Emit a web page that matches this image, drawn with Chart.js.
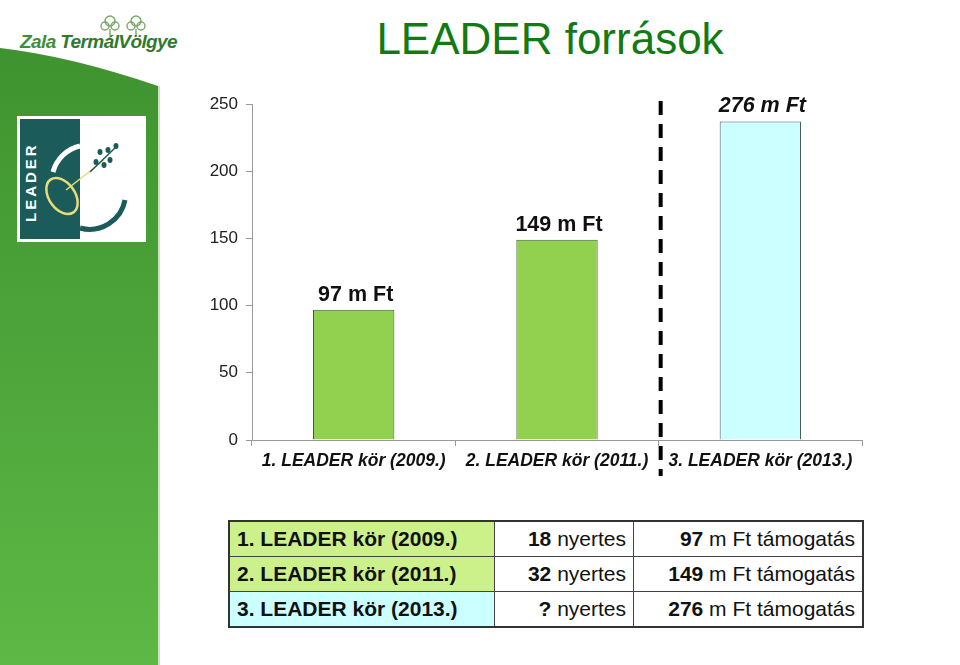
<!DOCTYPE html>
<html>
<head>
<meta charset="utf-8">
<script src="https://cdn.jsdelivr.net/npm/chart.js@4"></script>
<style>
  html, body { margin: 0; padding: 0; background: #fff; }
  body { width: 960px; height: 665px; position: relative; overflow: hidden; font-family: "Liberation Sans", Arial, sans-serif; }
  #side { position: absolute; left: 0; top: 0; }
  #brand { position: absolute; left: 20px; top: 31px; font-size: 19px; font-weight: bold; color: #3d8f3a; letter-spacing: -0.6px; font-style: italic; }
  #brand span { color: #2f7a2f; }
  #title { position: absolute; left: 170px; width: 760px; top: 14px; text-align: center; font-size: 44px; color: #127a12; }
  #wrap { position: absolute; left: 160px; top: 80px; width: 720px; height: 420px; }
  table { position: absolute; left: 228px; top: 520px; width: 636px; border-collapse: collapse; border: 2px solid #333; font-size: 21px; color: #111; }
  td { border: 1px solid #444; height: 34px; padding: 0 7px; white-space: nowrap; }
  td.k { font-weight: bold; width: 250px; }
  td.n { text-align: right; width: 124px; }
  td.t { text-align: right; }
</style>
</head>
<body>
<svg id="side" width="170" height="665">
  <defs>
    <linearGradient id="g" x1="0" y1="0" x2="0" y2="1">
      <stop offset="0" stop-color="#3f9330"/>
      <stop offset="1" stop-color="#5db845"/>
    </linearGradient>
  </defs>
  <path d="M0,48 Q70,56 158,86 L158,665 L0,665 Z" fill="url(#g)"/>
  <line x1="159" y1="86" x2="159" y2="665" stroke="#b8dca8" stroke-width="1.5"/>
  <!-- trees of the brand logo -->
  <g fill="none" stroke="#7aa86a" stroke-width="1.4">
    <circle cx="110" cy="21" r="5"/><circle cx="105" cy="26" r="4"/><circle cx="115" cy="26" r="4"/>
    <line x1="110" y1="29" x2="110" y2="36"/>
    <circle cx="136" cy="21" r="5"/><circle cx="131" cy="26" r="4"/><circle cx="141" cy="26" r="4"/>
    <line x1="136" y1="29" x2="136" y2="36"/>
  </g>
  <!-- LEADER logo -->
  <rect x="17" y="116" width="129" height="126" fill="#fff"/>
  <rect x="20" y="119" width="60" height="120" fill="#1b5c5a"/>
  <rect x="80" y="119" width="63" height="120" fill="#fff"/>
  <text transform="translate(36,222) rotate(-90)" fill="#fff" font-size="15" font-weight="bold" letter-spacing="3" font-family="Liberation Sans, Arial">LEADER</text>
  <path d="M80,146 A36,36 0 0 0 53,172" fill="none" stroke="#fff" stroke-width="5"/>
  <path d="M125,200 A36,36 0 0 1 80,228" fill="none" stroke="#1b5c5a" stroke-width="5"/>
  <ellipse cx="62" cy="196" rx="13" ry="20" transform="rotate(-35 62 196)" fill="none" stroke="#e8dc7a" stroke-width="2.5"/>
  <line x1="66" y1="190" x2="104" y2="160" stroke="#e8dc7a" stroke-width="1.5"/>
  <line x1="90" y1="172" x2="116" y2="147" stroke="#1b5c5a" stroke-width="1.5"/>
  <g fill="#1b5c5a">
    <ellipse cx="100" cy="152" rx="2.5" ry="3"/><ellipse cx="108" cy="150" rx="2.5" ry="3"/>
    <ellipse cx="116" cy="146" rx="2.5" ry="3"/><ellipse cx="104" cy="165" rx="2.5" ry="3"/>
    <ellipse cx="110" cy="160" rx="2.5" ry="3"/><ellipse cx="96" cy="162" rx="2.5" ry="3"/>
  </g>
</svg>
<div id="brand">Zala <span>TermálVölgye</span></div>
<div id="title">LEADER források</div>
<div id="wrap"><canvas id="c" width="720" height="420"></canvas></div>
<table id="tab"></table>
<script>
const rounds = ['1. LEADER kör (2009.)', '2. LEADER kör (2011.)', '3. LEADER kör (2013.)'];
const barValues = [97, 149, 237];
const barLabels = ['97 m Ft', '149 m Ft', '276 m Ft'];
const winners = ['18', '32', '?'];
const support = ['97', '149', '276'];
const yTicks = [0, 50, 100, 150, 200, 250];

const font = '"Liberation Sans", Arial, sans-serif';
const fills = ['#92d050', '#92d050', '#ccffff'];
const edges = ['#3f5f25', '#3f5f25', '#505a5a'];
const rowColors = ['#ccf08a', '#ccf08a', '#ccffff'];

// table below the chart
const tab = document.getElementById('tab');
rounds.forEach((r, i) => {
    const tr = document.createElement('tr');
    tr.innerHTML = `<td class="k" style="background:${rowColors[i]}">${r}</td>` +
        `<td class="n"><b>${winners[i]}</b> nyertes</td>` +
        `<td class="t"><b>${support[i]}</b> m Ft támogatás</td>`;
    tab.appendChild(tr);
});

// labels over the bars + dashed separator
const extras = {
    id: 'extras',
    afterDatasetsDraw(chart) {
        const ctx = chart.ctx;
        const meta = chart.getDatasetMeta(0);
        ctx.save();
        ctx.fillStyle = '#111';
        ctx.textAlign = 'center';
        ctx.textBaseline = 'alphabetic';
        meta.data.forEach((bar, i) => {
            ctx.font = (i === 2 ? 'italic ' : '') + 'bold 21.5px ' + font;
            ctx.fillText(barLabels[i], bar.x + 2, bar.y - 9);
        });
        const x = chart.scales.x.getPixelForValue(1.5) + 2;
        ctx.strokeStyle = '#000';
        ctx.lineWidth = 4;
        ctx.setLineDash([14, 9]);
        ctx.beginPath();
        ctx.moveTo(x, chart.chartArea.top - 3);
        ctx.lineTo(x, chart.chartArea.bottom + 36);
        ctx.stroke();
        ctx.restore();
    }
};

new Chart(document.getElementById('c'), {
    type: 'bar',
    data: {
        labels: rounds,
        datasets: [{
            data: barValues,
            backgroundColor: fills,
            borderColor: edges,
            borderWidth: 1,
            categoryPercentage: 1,
            barPercentage: 0.4
        }]
    },
    options: {
        responsive: false,
        animation: false,
        layout: { padding: { top: 24, right: 18, left: 0, bottom: 0 } },
        plugins: { legend: { display: false }, tooltip: { enabled: false } },
        scales: {
            x: {
                grid: { drawOnChartArea: false, tickLength: 6, color: '#999' },
                border: { color: '#999' },
                ticks: { color: '#111', font: { family: font, size: 17.5, style: 'italic', weight: 'bold' }, padding: 5, maxRotation: 0 },
                afterFit(s) { s.height = 60; }
            },
            y: {
                min: 0, max: 250,
                afterBuildTicks(s) { s.ticks = yTicks.map(v => ({ value: v })); },
                grid: { drawOnChartArea: false, tickLength: 6, color: '#999' },
                border: { color: '#999' },
                ticks: { color: '#222', font: { family: font, size: 17 }, padding: 8 },
                afterFit(s) { s.width = 92; }
            }
        }
    },
    plugins: [extras]
});
</script>
</body>
</html>
